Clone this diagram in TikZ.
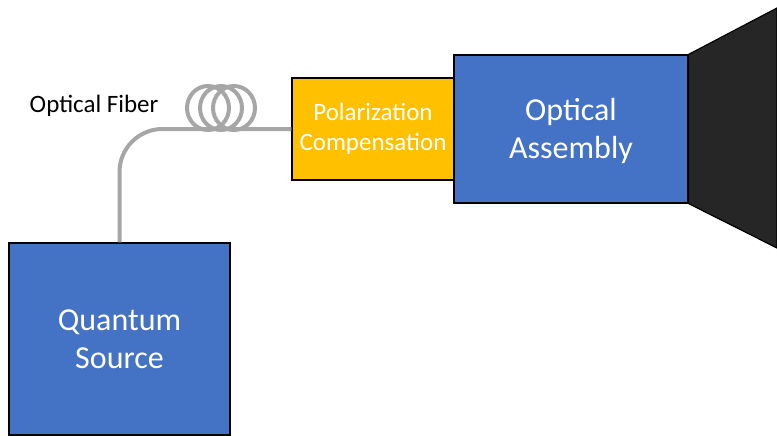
\documentclass[tikz,border=0pt]{standalone}
\usepackage{fontspec}
\setmainfont{Carlito}
\usetikzlibrary{positioning}
\definecolor{boxblue}{HTML}{4472C4}
\definecolor{boxgold}{HTML}{FFC000}
\definecolor{fibergray}{HTML}{A6A6A6}
\definecolor{lensdark}{HTML}{262626}

\begin{document}
\begin{tikzpicture}[x=1pt, y=-1pt,
	block/.style={rectangle, draw=black, line width=1.2pt, text=white,
	align=center, inner sep=0pt},
	fiber/.style={draw=fibergray, line width=4pt}]

\useasboundingbox (0,0) rectangle (777,436);

\node[block, fill=boxblue, minimum width=221pt, minimum height=192pt,
	font=\fontsize{32}{38}\selectfont] (src) at (119.5,339) {Quantum\\Source};
\node[block, fill=boxgold, minimum width=162pt, minimum height=102pt,
	font=\fontsize{25}{30}\selectfont] (pol) at (373,129) {Polarization\\Compensation};
\node[block, fill=boxblue, minimum width=234pt, minimum height=148pt,
	font=\fontsize{32}{38}\selectfont, right=-1.2pt of pol] (opt) {\strut Optical\\Assembly};
\node[font=\fontsize{25}{30}\selectfont, anchor=east] (lbl) at (162,106) {Optical Fiber};

% fiber from the source to the compensation stage
\draw[fiber, rounded corners=43pt] (src.north) |- (pol.west);
\foreach \cx in {208,221,234}
	\draw[fiber] (\cx,108) ellipse (21pt and 22pt);

% telescope cone
\draw[fill=lensdark, line width=1.2pt] (opt.north east) -- (777,8) -- (777,248)
	-- (opt.south east) -- cycle;
\end{tikzpicture}
\end{document}
